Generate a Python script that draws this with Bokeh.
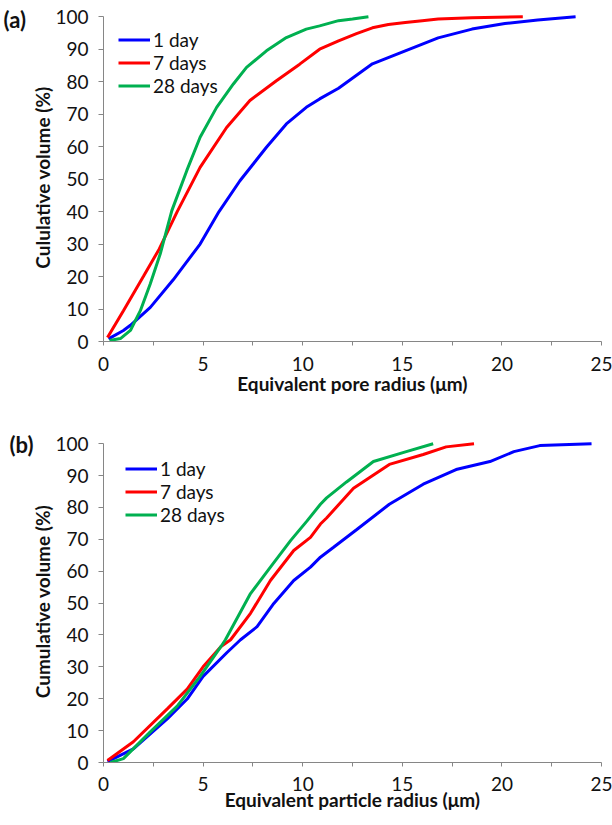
from bokeh.plotting import figure
from bokeh.layouts import column
from bokeh.models import FixedTicker, Legend, LegendItem, Title, Range1d
from bokeh.embed import file_html
from bokeh.resources import INLINE

# ---------------- data ----------------
series_names = ["1 day", "7 days", "28 days"]
series_colors = ["#0000FF", "#FF0000", "#00B050"]

# (a) pore radius
a_day1_x = [0.25, 1.0, 1.35, 2.35, 3.5, 4.85, 5.8, 6.85, 8.18, 9.18, 10.18, 10.85, 11.8, 13.5, 15.15, 16.8, 18.5, 20.15, 21.8, 23.7]
a_day1_y = [0.8, 3.4, 5.0, 10.5, 19.0, 30.0, 40.0, 49.5, 59.8, 67.0, 72.1, 74.7, 78.0, 85.5, 89.5, 93.5, 96.2, 97.9, 99.0, 100.0]
a_day7_x = [0.2, 1.0, 2.0, 2.8, 3.7, 4.85, 6.18, 7.35, 8.68, 9.85, 10.85, 11.8, 12.7, 13.5, 14.3, 15.15, 16.0, 16.8, 18.5, 21.05]
a_day7_y = [1.2, 9.5, 20.0, 28.5, 40.0, 53.6, 65.9, 74.2, 80.3, 85.4, 90.0, 92.6, 94.8, 96.6, 97.6, 98.2, 98.8, 99.3, 99.7, 100.0]
a_day28_x = [0.3, 0.85, 1.35, 1.85, 2.35, 2.85, 3.43, 4.18, 4.85, 5.68, 6.52, 7.18, 8.18, 9.18, 10.18, 10.85, 11.8, 12.5, 13.3]
a_day28_y = [0.3, 0.9, 3.4, 9.5, 17.8, 27.0, 40.3, 52.6, 62.9, 72.1, 79.3, 84.4, 89.5, 93.6, 96.2, 97.2, 98.8, 99.3, 100.0]

# (b) particle radius
b_day1_x = [0.2, 1.5, 3.2, 4.2, 5.0, 6.2, 6.88, 7.71, 8.55, 9.55, 10.39, 10.89, 11.55, 12.7, 14.35, 16.05, 17.7, 19.4, 20.6, 21.9, 24.5]
b_day1_y = [0.3, 4.3, 13.7, 19.9, 27.0, 34.5, 38.5, 42.6, 49.9, 57.1, 61.3, 64.4, 67.5, 73.0, 81.0, 87.3, 91.9, 94.4, 97.5, 99.4, 100.0]
b_day7_x = [0.2, 1.5, 3.2, 4.2, 5.0, 5.9, 6.38, 7.38, 8.38, 9.55, 10.39, 10.89, 11.2, 12.55, 14.35, 16.05, 17.2, 18.6]
b_day7_y = [0.6, 6.5, 16.8, 23.0, 30.0, 36.4, 38.5, 46.8, 57.1, 66.5, 70.6, 74.8, 76.7, 86.0, 93.5, 96.6, 99.0, 100.0]
b_day28_x = [0.35, 1.0, 2.35, 3.7, 4.85, 5.9, 6.12, 7.38, 8.38, 9.39, 10.22, 10.89, 11.2, 12.2, 13.55, 15.2, 16.55]
b_day28_y = [0.0, 1.2, 9.6, 17.7, 27.0, 36.4, 38.5, 53.0, 61.3, 69.6, 75.8, 81.0, 83.0, 88.0, 94.4, 97.5, 100.0]

x_ticks = [0, 5, 10, 15, 20, 25]
x_minor = [2.5, 7.5, 12.5, 17.5, 22.5]
y_ticks = [0, 10, 20, 30, 40, 50, 60, 70, 80, 90, 100]

FONT = "Lato"
AXIS_COLOR = "#868686"
TEXT_COLOR = "#111111"


def make_panel(xs, ys, xlabel, ylabel, tag, height, top, bottom, leg_loc,
               tag_offset, tag_standoff, lab_standoff, title_standoff):
    p = figure(width=612, height=height, output_backend="svg", toolbar_location=None,
               x_range=Range1d(0, 25), y_range=Range1d(0, 101),
               min_border_left=103, min_border_right=11,
               min_border_top=top, min_border_bottom=bottom)
    p.outline_line_color = None
    p.grid.visible = False
    p.background_fill_color = "white"
    p.border_fill_color = "white"

    xa = p.xaxis[0]
    xa.ticker = FixedTicker(ticks=x_ticks, minor_ticks=x_minor)
    xa.major_tick_out = 4
    xa.major_tick_in = 0
    xa.minor_tick_out = 4
    xa.minor_tick_in = 0
    xa.major_label_standoff = lab_standoff
    xa.axis_label = xlabel
    xa.axis_label_standoff = title_standoff

    ya = p.yaxis[0]
    ya.ticker = FixedTicker(ticks=y_ticks, minor_ticks=[])
    ya.bounds = (0, 100)
    ya.major_tick_out = 5
    ya.major_tick_in = 0
    ya.minor_tick_out = 0
    ya.minor_tick_in = 0
    ya.major_label_standoff = 10
    ya.axis_label = ylabel
    ya.axis_label_standoff = -2

    for ax in (xa, ya):
        ax.axis_line_color = AXIS_COLOR
        ax.major_tick_line_color = AXIS_COLOR
        ax.minor_tick_line_color = AXIS_COLOR
        ax.major_label_text_font = FONT
        ax.major_label_text_font_size = "19px"
        ax.major_label_text_color = TEXT_COLOR
        ax.axis_label_text_font = FONT
        ax.axis_label_text_font_size = "19px"
        ax.axis_label_text_font_style = "bold"
        ax.axis_label_text_color = TEXT_COLOR

    items = []
    for x, y, name, col in zip(xs, ys, series_names, series_colors):
        r = p.line(x, y, line_color=col, line_width=3)
        items.append(LegendItem(label=name, renderers=[r]))

    leg = Legend(items=items, location=leg_loc)
    leg.padding = 0
    leg.margin = 0
    leg.spacing = 0
    leg.label_standoff = 3
    leg.glyph_width = 32
    leg.glyph_height = 23
    leg.label_height = 23
    leg.label_text_font = FONT
    leg.label_text_font_size = "19px"
    leg.label_text_color = TEXT_COLOR
    leg.border_line_color = None
    leg.background_fill_alpha = 0
    p.add_layout(leg)

    p.title = Title(text=tag, align="left", offset=tag_offset, standoff=tag_standoff,
                    text_font=FONT, text_font_size="22px", text_font_style="bold",
                    text_color=TEXT_COLOR)
    return p


pa = make_panel([a_day1_x, a_day7_x, a_day28_x], [a_day1_y, a_day7_y, a_day28_y],
                "Equivalent pore radius (\u03bcm)", "Cululative volume (%)", "(a)",
                height=409, top=13, bottom=68, leg_loc=(15, 244),
                tag_offset=-100, tag_standoff=-38, lab_standoff=11, title_standoff=-2)
pb = make_panel([b_day1_x, b_day7_x, b_day28_x], [b_day1_y, b_day7_y, b_day28_y],
                "Equivalent particle radius (\u03bcm)", "Cumulative volume (%)", "(b)",
                height=416, top=31, bottom=63, leg_loc=(22, 236),
                tag_offset=-94, tag_standoff=-34, lab_standoff=10, title_standoff=-6)

layout = column(pa, pb, spacing=0)
open("out.html", "w").write(file_html(layout, INLINE))
